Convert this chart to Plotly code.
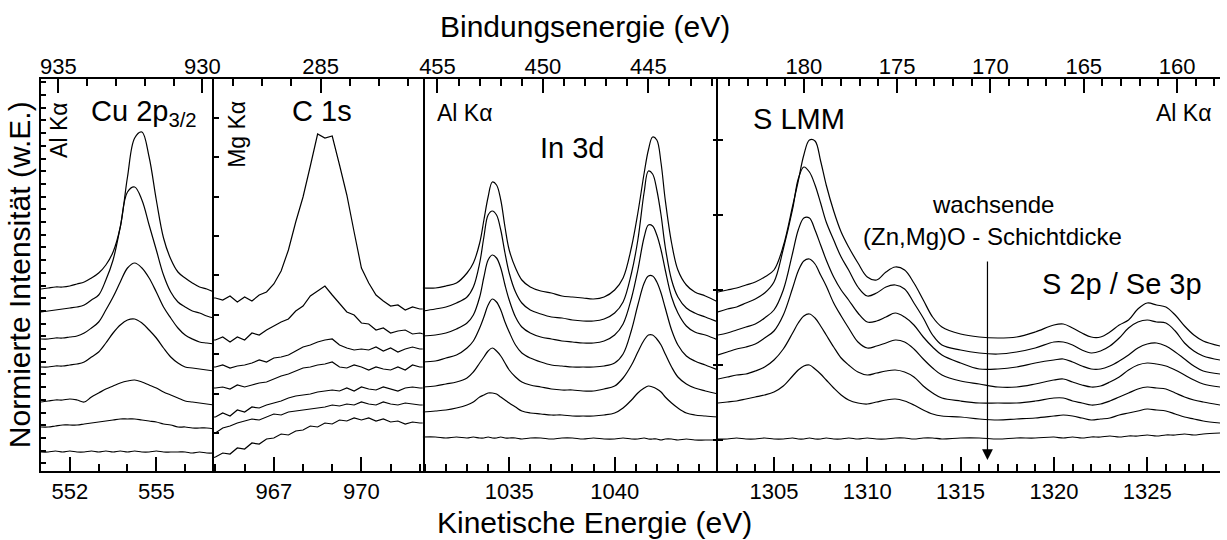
import plotly.graph_objects as go

# Photon energies of the two X-ray sources (eV)
AL_KA = 1486.6
MG_KA = 1253.6

# ---- Cu 2p3/2 (Al Ka): kinetic energy grid and 7 spectra, thinnest layer on top ----
cu_ke = [551.0, 551.25, 551.5, 551.75, 552.0, 552.25, 552.5, 552.75, 553.0, 553.25,
         553.5, 553.75, 554.0, 554.25, 554.5, 554.75, 555.0, 555.25, 555.5, 555.75,
         556.0, 556.25, 556.5, 556.75, 557.0]
cu_spectra = [
    [182, 183, 184, 184, 185, 187, 189, 193, 198, 206, 219, 244, 294, 333, 339, 314, 271, 233, 212, 199, 193, 188, 184, 182, 179],
    [159, 160, 161, 162, 163, 164, 166, 171, 176, 191, 211, 244, 279, 284, 271, 246, 221, 196, 179, 169, 164, 160, 158, 155, 153],
    [132, 132, 133, 133, 134, 135, 138, 143, 149, 161, 174, 189, 203, 208, 203, 193, 179, 164, 153, 143, 136, 132, 129, 128, 127],
    [104, 104, 105, 105, 106, 107, 109, 114, 119, 128, 138, 146, 151, 152, 148, 141, 133, 123, 114, 108, 104, 103, 102, 101, 100],
    [69, 70, 71, 71, 72, 71, 69, 74, 78, 82, 85, 88, 90, 91, 89, 86, 83, 79, 76, 73, 70, 69, 68, 67, 66],
    [44, 44, 45, 46, 46, 46, 47, 48, 49, 50, 51, 52, 52, 52, 51, 50, 49, 47, 46, 44, 44, 43, 43, 43, 42],
    [19, 19, 20, 19, 20, 19, 19, 20, 19, 20, 19, 20, 19, 20, 19, 19, 20, 19, 19, 19, 19, 18, 19, 18, 18],
]

# ---- C 1s (Mg Ka) ----
c1s_ke = [964.75, 965.0, 965.25, 965.5, 965.75, 966.0, 966.25, 966.5, 966.75, 967.0,
          967.25, 967.5, 967.75, 968.0, 968.25, 968.5, 968.75, 969.0, 969.25, 969.5,
          969.75, 970.0, 970.25, 970.5, 970.75, 971.0, 971.25, 971.5, 971.75, 972.0, 972.25]
c1s_spectra = [
    [173, 173, 171, 175, 169, 174, 170, 176, 179, 187, 200, 221, 249, 274, 305, 337, 333, 335, 306, 276, 239, 203, 188, 176, 170, 165, 166, 161, 164, 162, 162],
    [131, 131, 134, 129, 134, 131, 138, 136, 141, 145, 149, 152, 160, 165, 175, 180, 185, 176, 168, 159, 156, 148, 147, 141, 143, 138, 140, 141, 137, 138, 136],
    [104, 104, 106, 103, 105, 106, 108, 111, 109, 113, 114, 116, 120, 124, 126, 129, 131, 132, 126, 123, 121, 122, 121, 124, 120, 123, 119, 122, 124, 122, 122],
    [83, 83, 84, 82, 86, 84, 86, 88, 89, 92, 95, 97, 100, 103, 104, 106, 107, 109, 104, 103, 106, 104, 101, 104, 102, 101, 104, 101, 106, 104, 104],
    [54, 54, 58, 55, 61, 59, 64, 63, 66, 68, 70, 73, 75, 76, 77, 79, 80, 81, 80, 83, 80, 84, 82, 81, 84, 82, 80, 83, 84, 83, 83],
    [36, 38, 43, 45, 48, 50, 52, 51, 54, 57, 56, 59, 60, 61, 62, 63, 64, 66, 65, 67, 66, 69, 67, 66, 69, 67, 66, 68, 67, 66, 66],
    [12, 14, 18, 17, 23, 22, 28, 27, 32, 33, 37, 36, 40, 41, 45, 44, 48, 47, 51, 50, 53, 51, 53, 50, 52, 49, 50, 47, 49, 48, 48],
]

# ---- In 3d (Al Ka) ----
in_ke = [1030.9, 1031.5, 1032.0, 1032.5, 1033.0, 1033.3, 1033.6, 1033.8, 1034.0, 1034.2,
         1034.4, 1034.6, 1034.8, 1035.0, 1035.3, 1035.6, 1036.0, 1036.5, 1037.0, 1037.5,
         1038.0, 1038.5, 1039.0, 1039.5, 1040.0, 1040.4, 1040.8, 1041.1, 1041.4, 1041.6,
         1041.8, 1042.0, 1042.2, 1042.4, 1042.7, 1043.0, 1043.4, 1043.8, 1044.3, 1044.9]
in_spectra = [
    [183, 183, 185, 188, 198, 208, 228, 251, 274, 289, 286, 271, 244, 221, 203, 191, 184, 180, 178, 175,
     174, 173, 172, 174, 181, 193, 224, 258, 298, 321, 334, 331, 308, 271, 228, 201, 186, 179, 175, 169],
    [160, 162, 164, 168, 174, 184, 208, 234, 256, 260, 256, 241, 218, 198, 179, 168, 161, 157, 154, 153,
     151, 150, 150, 152, 158, 169, 198, 231, 279, 300, 297, 281, 256, 224, 191, 174, 163, 158, 154, 149],
    [135, 136, 138, 142, 148, 156, 174, 194, 211, 216, 213, 203, 186, 171, 154, 144, 138, 134, 132, 130,
     129, 128, 128, 130, 136, 147, 173, 201, 234, 246, 245, 236, 221, 201, 174, 158, 145, 139, 136, 131],
    [109, 110, 113, 116, 123, 130, 143, 154, 166, 172, 169, 161, 149, 139, 126, 118, 113, 109, 106, 105,
     104, 104, 104, 105, 108, 117, 141, 166, 188, 195, 195, 189, 178, 163, 141, 126, 115, 110, 106, 101],
    [84, 85, 87, 89, 93, 99, 108, 114, 120, 123, 120, 115, 108, 101, 94, 89, 86, 84, 82, 81,
     81, 80, 80, 82, 85, 93, 106, 119, 131, 136, 136, 132, 126, 117, 104, 94, 87, 83, 80, 77],
    [59, 60, 61, 63, 66, 69, 74, 76, 78, 78, 77, 74, 71, 68, 64, 60, 58, 57, 56, 56,
     55, 55, 55, 56, 58, 63, 71, 78, 83, 85, 84, 82, 79, 74, 68, 63, 58, 56, 55, 54],
    [34, 34, 33, 34, 33, 34, 33, 33, 34, 33, 33, 34, 33, 33, 33, 32, 33, 33, 32, 33,
     33, 32, 33, 32, 32, 33, 32, 32, 33, 32, 32, 32, 31, 32, 32, 31, 32, 31, 31, 31],
]

# ---- S LMM and S 2p / Se 3p (Al Ka) ----
s_ke = [1302.0, 1302.5, 1303.0, 1303.5, 1304.0, 1304.5, 1305.0, 1305.5, 1306.0, 1306.3,
        1306.6, 1306.9, 1307.2, 1307.5, 1307.8, 1308.2, 1308.6, 1309.0, 1309.5, 1310.0,
        1310.5, 1311.0, 1311.5, 1312.0, 1312.5, 1313.0, 1313.5, 1314.0, 1315.0, 1316.0,
        1317.0, 1318.0, 1319.0, 1320.0, 1320.5, 1321.0, 1321.5, 1322.0, 1322.5, 1323.0,
        1323.5, 1324.0, 1324.5, 1325.0, 1325.5, 1326.0, 1326.5, 1327.0, 1327.5, 1328.0, 1328.9]
s_spectra = [
    [179, 181, 183, 186, 189, 194, 201, 225, 265, 290, 316, 331, 330, 310, 286, 260, 239, 224, 208, 194,
     191, 199, 204, 201, 188, 171, 154, 144, 137, 134, 133, 134, 139, 146, 147, 143, 138, 134, 134, 139,
     146, 151, 162, 168, 166, 164, 156, 145, 136, 130, 125],
    [159, 162, 164, 168, 172, 178, 189, 222, 262, 292, 304, 299, 286, 268, 249, 231, 214, 201, 184, 175,
     178, 184, 186, 182, 168, 153, 136, 126, 121, 118, 117, 119, 123, 129, 129, 126, 121, 118, 120, 125,
     133, 143, 149, 151, 149, 148, 140, 128, 120, 115, 111],
    [136, 138, 141, 144, 147, 153, 161, 181, 218, 241, 253, 253, 241, 226, 211, 194, 181, 171, 158, 149,
     150, 154, 158, 154, 146, 134, 124, 116, 108, 102, 102, 104, 108, 111, 112, 109, 105, 102, 102, 105,
     110, 116, 123, 127, 128, 125, 119, 112, 105, 100, 97],
    [116, 119, 122, 124, 127, 133, 140, 156, 183, 200, 210, 212, 207, 196, 185, 168, 155, 143, 129, 123,
     125, 128, 131, 129, 122, 112, 103, 96, 90, 87, 84, 84, 87, 91, 92, 89, 86, 84, 85, 89,
     94, 101, 106, 108, 107, 105, 101, 96, 91, 87, 84],
    [92, 94, 96, 97, 100, 104, 111, 122, 138, 148, 155, 157, 153, 145, 136, 124, 113, 106, 99, 96,
     98, 100, 101, 99, 94, 85, 78, 73, 70, 68, 68, 68, 70, 73, 73, 70, 68, 66, 67, 70,
     74, 78, 82, 84, 83, 82, 78, 74, 71, 69, 66],
    [68, 69, 70, 72, 74, 76, 79, 85, 95, 101, 105, 106, 102, 97, 91, 83, 76, 71, 68, 67,
     69, 71, 72, 70, 66, 61, 57, 55, 54, 52, 51, 52, 53, 55, 56, 55, 53, 51, 52, 53,
     56, 58, 60, 62, 61, 60, 57, 54, 52, 50, 48],
    [32, 32, 33, 32, 32, 33, 32, 32, 33, 32, 32, 33, 32, 32, 33, 32, 32, 33, 32, 33,
     32, 32, 33, 33, 32, 33, 33, 32, 33, 33, 32, 33, 33, 34, 33, 34, 33, 34, 34, 35,
     34, 35, 35, 36, 35, 36, 36, 37, 36, 37, 38],
]

FONT = "Liberation Sans, Arial, Helvetica, sans-serif"
W, H = 1227, 540
ML, MR, MT, MB = 41, 0, 79, 69
PW, PH = W - ML - MR, H - MT - MB
EDGES = [41, 215, 425, 722, 1227]
Y_MAX = 392          # y axis runs in intensity units equal to one pixel of plot height

panels = [
    dict(ke=cu_ke, spectra=cu_spectra, rng=(551.0, 557.0), hv=AL_KA, dtick=3, tick0=552, shape="spline"),
    dict(ke=c1s_ke, spectra=c1s_spectra, rng=(964.95, 972.1), hv=MG_KA, dtick=3, tick0=967, shape="linear"),
    dict(ke=in_ke, spectra=in_spectra, rng=(1030.9, 1044.9), hv=AL_KA, dtick=5, tick0=1035, shape="spline"),
    dict(ke=s_ke, spectra=s_spectra, rng=(1302.0, 1328.9), hv=AL_KA, dtick=5, tick0=1305, shape="spline"),
]
y_styles = [
    dict(dtick=12.7, tick0=7.7, side="left", mirror=False, line=True),
    dict(dtick=39.4, tick0=38, side="left", mirror=True, line=True),
    dict(dtick=75, tick0=31, side="right", mirror=False, line=False),
    dict(dtick=75, tick0=31, side="left", mirror=False, line=True),
]

tick_font = dict(family=FONT, size=22, color="black")
x_common = dict(showline=True, linecolor="black", linewidth=2, showgrid=False, zeroline=False,
                ticks="inside", ticklen=14, tickwidth=2, tickcolor="black", tickfont=tick_font,
                minor=dict(dtick=1, tick0=0, ticks="inside", ticklen=7, tickwidth=2,
                           tickcolor="black", showgrid=False))

fig = go.Figure()
layout = {}
for i, p in enumerate(panels):
    n = i + 1
    sfx = "" if n == 1 else str(n)
    for spec in p["spectra"]:
        fig.add_trace(go.Scatter(
            x=p["ke"], y=spec, mode="lines",
            line=dict(color="black", width=1.2, shape=p["shape"]),
            xaxis="x" + sfx, yaxis="y" + sfx, showlegend=False, hoverinfo="skip"))

    top = 4 + n
    hv = p["hv"]
    be_rng = [hv - p["rng"][0], hv - p["rng"][1]]
    # placeholder trace so the binding-energy axis on top is drawn
    fig.add_trace(go.Scatter(x=be_rng, y=[None, None], mode="lines",
                             xaxis=f"x{top}", yaxis="y" + sfx, showlegend=False, hoverinfo="skip"))
    dom = [(EDGES[i] - ML) / PW, (EDGES[i + 1] - ML) / PW]
    layout["xaxis" + sfx] = dict(domain=dom, anchor="y" + sfx, side="bottom", range=list(p["rng"]),
                                 dtick=p["dtick"], tick0=p["tick0"], **x_common)
    layout[f"xaxis{top}"] = dict(overlaying="x" + sfx, anchor="y" + sfx, side="top", range=be_rng,
                                 dtick=5, tick0=0, ticklabelstandoff=-6, **x_common)
    ys = y_styles[i]
    layout["yaxis" + sfx] = dict(domain=[0, 1], anchor="x" + sfx, range=[0, Y_MAX], side=ys["side"],
                                 showline=ys["line"], linecolor="black", linewidth=2, mirror=ys["mirror"],
                                 showgrid=False, zeroline=False, showticklabels=False,
                                 ticks="inside", ticklen=5, tickwidth=1.5, tickcolor="black",
                                 dtick=ys["dtick"], tick0=ys["tick0"])


def label(text, x, y, size, angle=0):
    return dict(text=text, x=(x - ML) / PW, y=(H - MB - y) / PH, xref="paper", yref="paper",
                showarrow=False, textangle=angle, xanchor="center", yanchor="middle",
                font=dict(family=FONT, size=size, color="black"))


annotations = [
    label("Bindungsenergie (eV)", 588, 27, 30),
    label("Kinetische Energie (eV)", 598, 522, 30),
    label("Normierte Intensität (w.E.)", 19, 275, 30, -90),
    label("Al K\u03b1", 59, 130, 23, -90),
    label("Cu 2p<sub>3/2</sub>", 145, 113, 29),
    label("Mg K\u03b1", 238, 134, 23, -90),
    label("C 1s", 324, 111, 29),
    label("Al K\u03b1", 467, 113, 23),
    label("In 3d", 576, 148, 29),
    label("S LMM", 803, 119, 29),
    label("Al K\u03b1", 1190, 113, 23),
    label("wachsende", 999, 204, 24),
    label("(Zn,Mg)O - Schichtdicke", 998, 237, 24),
    label("S 2p / Se 3p", 1128, 284, 29),
    # arrow: increasing (Zn,Mg)O layer thickness
    dict(x=1316.44, y=11, xref="x4", yref="y4", ax=0, ay=-200, axref="pixel", ayref="pixel",
         text="", showarrow=True, arrowhead=2, arrowsize=1.8, arrowwidth=1.2, arrowcolor="black"),
]

fig.update_layout(
    width=W, height=H,
    margin=dict(l=ML, r=MR, t=MT, b=MB, pad=0),
    paper_bgcolor="white", plot_bgcolor="white",
    showlegend=False,
    annotations=annotations,
    **layout,
)

fig.write_html("out.html")
